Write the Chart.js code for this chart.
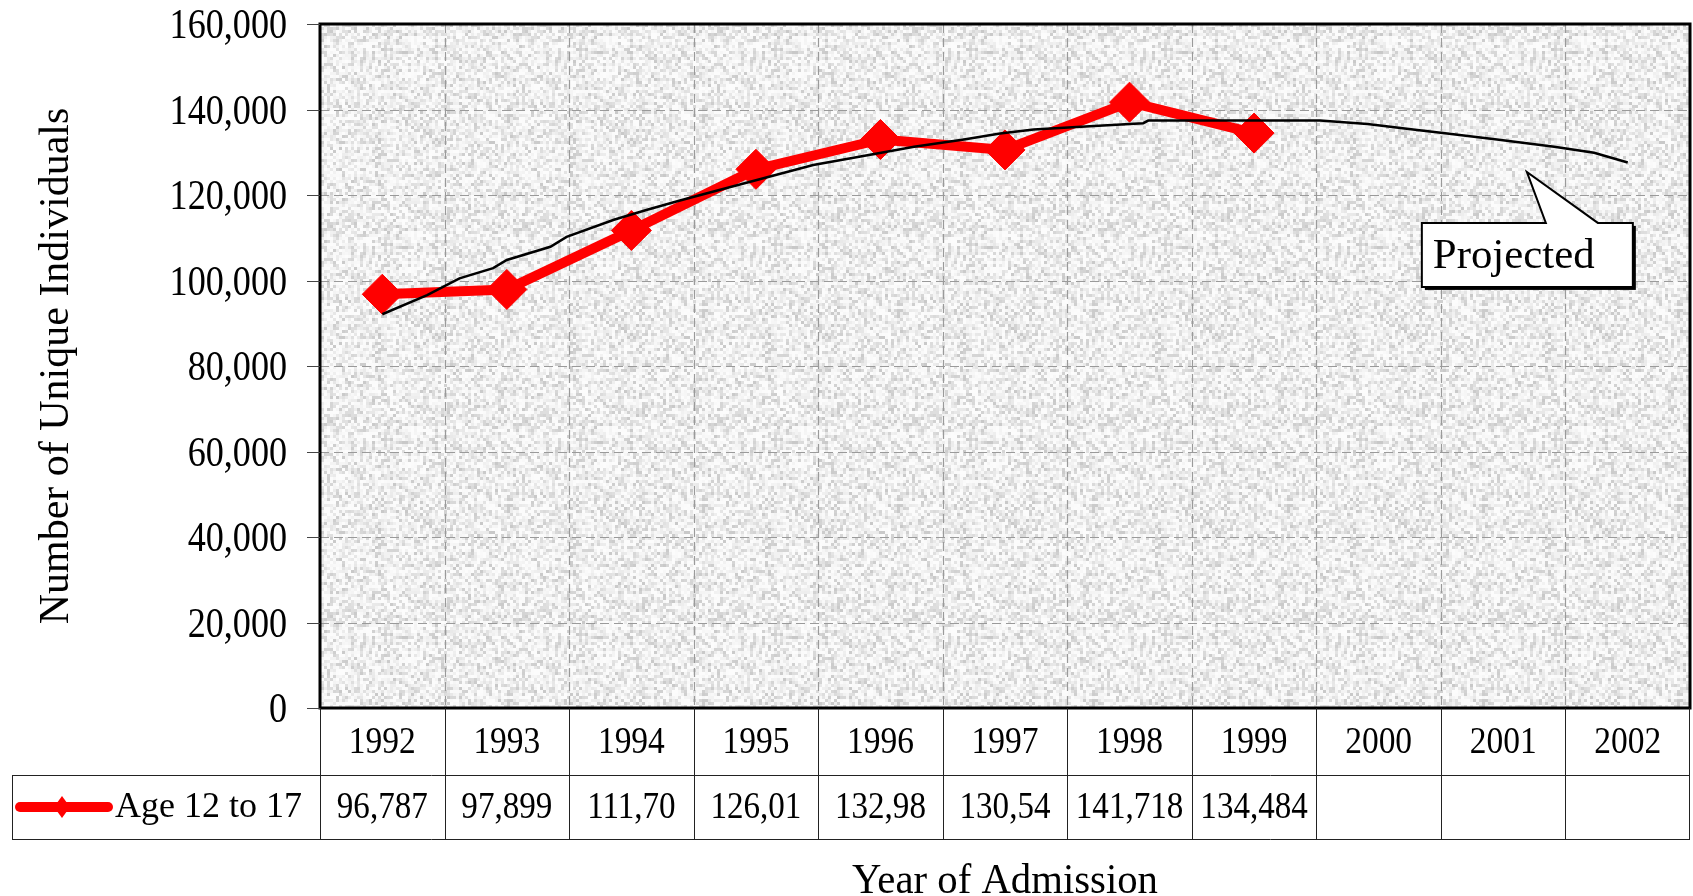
<!DOCTYPE html>
<html>
<head>
<meta charset="utf-8">
<title>Number of Unique Individuals by Year of Admission</title>
<script src="https://cdn.jsdelivr.net/npm/chart.js@4.4.1/dist/chart.umd.min.js"></script>
<style>
    html, body { margin: 0; padding: 0; background: #fff; }
    canvas { display: block; }
</style>
</head>
<body>
<canvas id="admChart" width="1693" height="896"></canvas>
<script>
// categories + values
var years = ['1992', '1993', '1994', '1995', '1996', '1997', '1998', '1999', '2000', '2001', '2002'];
var age12to17 = [96787, 97899, 111705, 126015, 132985, 130545, 141718, 134484, null, null, null];
// the data table shows some values cut off, keep them as shown
var tableText = ['96,787', '97,899', '111,70', '126,01', '132,98', '130,54', '141,718', '134,484', '', '', ''];

// projected trend line (thin black)
var projYears  = [1992.0, 1992.36, 1992.62, 1992.89, 1993.0, 1993.35, 1993.48, 1993.86, 1994.12, 1994.39,
                  1994.66, 1995.06, 1995.46, 1995.84, 1996.27, 1996.67, 1996.96, 1997.23, 1997.68, 1998.11,
                  1998.15, 1999.53, 1999.91, 2000.31, 2000.55, 2000.95, 2001.41, 2001.73, 2002.0];
var projValues = [92100, 96600, 100500, 102900, 104800, 107900, 110200, 114200, 116500, 118700,
                  120800, 123900, 127000, 129000, 131300, 133000, 134400, 135300, 136100, 136800,
                  137400, 137400, 136600, 135200, 134400, 133000, 131300, 129900, 127600];

var yMax  = 160000;
var yStep = 20000;

var SERIF = '"Liberation Serif", "Times New Roman", serif';

function squeezeText(ctx, txt, x, y, size, align, sx) {
    ctx.save();
    ctx.font = size + 'px ' + SERIF;
    ctx.fillStyle = '#000';
    ctx.textAlign = align;
    ctx.textBaseline = 'middle';
    ctx.translate(x, y);
    ctx.scale(sx, 1);
    ctx.fillText(txt, 0, 0);
    ctx.restore();
}

// grey speckled fill like the old excel plot area
function makeTexture() {
    var c = document.createElement('canvas');
    c.width = 195; c.height = 195;
    var g = c.getContext('2d');
    for (var by = 0; by < 65; by++) {
        for (var bx = 0; bx < 65; bx++) {
            var h = Math.sin(bx * 12.9898 + by * 78.233) * 43758.5453;
            h = h - Math.floor(h);
            var v = Math.round(252 - Math.pow(h, 2.3) * 52);
            g.fillStyle = 'rgb(' + v + ',' + v + ',' + v + ')';
            g.fillRect(bx * 3, by * 3, 3, 3);
        }
    }
    return c;
}

var chartDecor = {
    id: 'chartDecor',
    beforeDatasetsDraw: function (chart) {
        var ctx = chart.ctx, a = chart.chartArea;
        var x = chart.scales.x, y = chart.scales.y;
        ctx.save();
        ctx.fillStyle = ctx.createPattern(makeTexture(), 'repeat');
        ctx.fillRect(a.left, a.top, a.right - a.left, a.bottom - a.top);

        ctx.strokeStyle = '#9a9a9a';
        ctx.lineWidth = 1.2;
        ctx.setLineDash([9, 5]);
        ctx.beginPath();
        y.ticks.forEach(function (t) {
            if (t.value <= 0 || t.value >= yMax) return;
            var py = Math.round(y.getPixelForValue(t.value)) + 0.5;
            ctx.moveTo(a.left, py);
            ctx.lineTo(a.right, py);
        });
        for (var i = 1; i < years.length; i++) {
            var px = Math.round((x.getPixelForValue(i - 1) + x.getPixelForValue(i)) / 2) + 0.5;
            ctx.moveTo(px, a.top);
            ctx.lineTo(px, a.bottom);
        }
        ctx.stroke();
        ctx.restore();
    },
    afterDatasetsDraw: function (chart) {
        var ctx = chart.ctx, a = chart.chartArea;
        var x = chart.scales.x, x2 = chart.scales.x2, y = chart.scales.y;
        ctx.save();

        // plot frame
        ctx.strokeStyle = '#000';
        ctx.lineWidth = 3;
        ctx.strokeRect(a.left, a.top, a.right - a.left, a.bottom - a.top);

        // y ticks + labels
        ctx.strokeStyle = '#444';
        ctx.lineWidth = 1;
        y.ticks.forEach(function (t) {
            var py = Math.round(y.getPixelForValue(t.value)) + 0.5;
            ctx.beginPath();
            ctx.moveTo(a.left - 13, py);
            ctx.lineTo(a.left, py);
            ctx.stroke();
            squeezeText(ctx, t.value.toLocaleString('en-US'), a.left - 33, py + 2, 42, 'right', 0.86);
        });

        // y title
        ctx.save();
        ctx.translate(57, (a.top + a.bottom) / 2);
        ctx.rotate(-Math.PI / 2);
        ctx.font = '42px ' + SERIF;
        ctx.fillStyle = '#000';
        ctx.textAlign = 'center';
        ctx.textBaseline = 'middle';
        ctx.fillText('Number of Unique Individuals', 0, 0);
        ctx.restore();

        // data table under the plot
        var half = (a.right - a.left) / years.length / 2;
        var row1 = a.bottom + 67, row2 = row1 + 64, legLeft = 12;
        ctx.strokeStyle = '#222';
        ctx.lineWidth = 1;
        ctx.beginPath();
        ctx.moveTo(legLeft, row1 + 0.5); ctx.lineTo(a.right, row1 + 0.5);
        ctx.moveTo(legLeft, row2 + 0.5); ctx.lineTo(a.right, row2 + 0.5);
        ctx.moveTo(legLeft + 0.5, row1); ctx.lineTo(legLeft + 0.5, row2);
        for (var i = 0; i <= years.length; i++) {
            var bx = Math.round(i < years.length ? x.getPixelForValue(i) - half : a.right - 1) + 0.5;
            ctx.moveTo(bx, a.bottom); ctx.lineTo(bx, row2);
        }
        ctx.stroke();

        years.forEach(function (yr, i) {
            var cx = x.getPixelForValue(i);
            squeezeText(ctx, yr, cx, (a.bottom + row1) / 2 + 2, 38, 'center', 0.88);
            if (tableText[i]) squeezeText(ctx, tableText[i], cx, (row1 + row2) / 2 + 1, 38, 'center', 0.87);
        });

        // legend key in the table
        var ky = (row1 + row2) / 2;
        ctx.strokeStyle = '#ff0000';
        ctx.lineWidth = 10;
        ctx.lineCap = 'round';
        ctx.beginPath();
        ctx.moveTo(20, ky); ctx.lineTo(108, ky);
        ctx.stroke();
        ctx.fillStyle = '#ff0000';
        ctx.beginPath();
        ctx.moveTo(62, ky - 11); ctx.lineTo(70, ky); ctx.lineTo(62, ky + 11); ctx.lineTo(54, ky);
        ctx.closePath();
        ctx.fill();
        squeezeText(ctx, 'Age 12 to 17', 115, ky + 1, 36, 'left', 1);

        // x title
        squeezeText(ctx, 'Year of Admission', (a.left + a.right) / 2, 882, 42, 'center', 0.97);

        // "Projected" callout pointing at the trend line
        var tx = x2.getPixelForValue(2001.19), ty = y.getPixelForValue(125400);
        var bl = tx - 105, bt = ty + 51, br = tx + 106, bb = ty + 115;
        ctx.fillStyle = '#000';
        ctx.fillRect(bl + 3, bt + 3, br - bl, bb - bt);
        ctx.beginPath();
        ctx.moveTo(bl, bt);
        ctx.lineTo(tx + 19, bt);
        ctx.lineTo(tx, ty);
        ctx.lineTo(tx + 71, bt);
        ctx.lineTo(br, bt);
        ctx.lineTo(br, bb);
        ctx.lineTo(bl, bb);
        ctx.closePath();
        ctx.fillStyle = '#fff';
        ctx.fill();
        ctx.strokeStyle = '#000';
        ctx.lineWidth = 2;
        ctx.lineJoin = 'miter';
        ctx.stroke();
        squeezeText(ctx, 'Projected', bl + 11, bt + 34, 42, 'left', 1.02);

        ctx.restore();
    }
};

new Chart(document.getElementById('admChart'), {
    type: 'line',
    data: {
        labels: years,
        datasets: [
            {
                label: 'Age 12 to 17',
                data: age12to17,
                xAxisID: 'x',
                yAxisID: 'y',
                borderColor: '#ff0000',
                backgroundColor: '#ff0000',
                borderWidth: 10,
                borderJoinStyle: 'round',
                pointStyle: 'rectRot',
                pointRadius: 20,
                pointBackgroundColor: '#ff0000',
                pointBorderColor: '#ff0000',
                pointBorderWidth: 1,
                tension: 0,
                order: 2
            },
            {
                label: 'Projected',
                data: projYears.map(function (yr, i) { return { x: yr, y: projValues[i] }; }),
                xAxisID: 'x2',
                yAxisID: 'y',
                borderColor: '#000',
                borderWidth: 2.5,
                pointRadius: 0,
                tension: 0,
                order: 1
            }
        ]
    },
    options: {
        responsive: false,
        animation: false,
        devicePixelRatio: 1,
        layout: { autoPadding: false, padding: { left: 320, top: 24, right: 3, bottom: 188 } },
        plugins: {
            legend: { display: false },
            tooltip: { enabled: false }
        },
        scales: {
            x:  { type: 'category', offset: true, display: false },
            x2: { type: 'linear', min: 1991.5, max: 2002.5, display: false },
            y:  { min: 0, max: yMax, ticks: { stepSize: yStep }, display: false }
        }
    },
    plugins: [chartDecor]
});
</script>
</body>
</html>
